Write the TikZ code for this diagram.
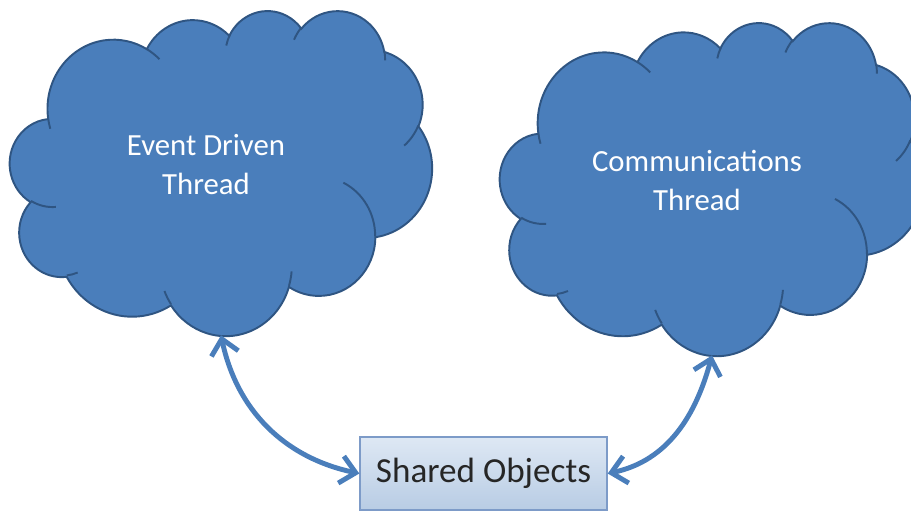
\documentclass[tikz,border=0pt]{standalone}
\usepackage{fontspec}
\setmainfont{Carlito}
\usepackage{tikz}
\usetikzlibrary{arrows.meta}

\definecolor{cloudblue}{RGB}{74,126,187}
\definecolor{cloudedge}{RGB}{47,85,130}
\definecolor{boxtop}{RGB}{222,232,244}
\definecolor{boxbot}{RGB}{184,204,228}
\definecolor{boxedge}{RGB}{125,155,200}

% angle on the ellipse (given as seen from the centre) -> parameter angle
\tikzset{declare function={
  parang(\p,\rx,\ry)=atan2(\rx*sin(\p),\ry*cos(\p));
  angfix(\p,\rx,\ry)=mod(parang(\p,\rx,\ry)-\p+900,360)-180;}}

% cloud outline, in a 432 x 432 box scaled to \cw x \ch
\newcommand{\ppat}[2]{({#1/432*\cw},{-#2/432*\ch})}
\newcommand{\pparc}[4]{arc[x radius={#1/432*\cw}, y radius={#2/432*\ch},
  start angle={-(#3+angfix(#3,#1,#2))},
  delta angle={-(#4+angfix(#3+#4,#1,#2)-angfix(#3,#1,#2))}]}
\newcommand{\offtext}[1]{\raisebox{0pt}[\height][\dimexpr\depth+0.2cm\relax]{%
  \begin{tabular}{@{}c@{}}#1\end{tabular}}\hspace*{0.6cm}}

\newcommand{\threadcloud}[5]{%
  \begin{scope}[shift={#2}]
  \def\cw{#3}\def\ch{#4}
  \filldraw[cloudline, fill=cloudblue] \ppat{39}{143.7}
    \pparc{67.53}{91.90}{-190.48748}{123.78053}
    \pparc{53.33}{72.67}{-144.10238}{89.94523}
    \pparc{43.65}{59.45}{-145.80792}{99.72302}
    \pparc{48.57}{65.95}{-130.98607}{117.24173}
    \pparc{53.33}{72.73}{-78.70888}{109.02692}
    \pparc{67.75}{92.20}{-46.26725}{130.269}
    \pparc{57.85}{78.67}{0.62502}{114.03333}
    \pparc{67.52}{92.15}{22.4516}{115.17255}
    \pparc{77.20}{105.43}{66.24263}{75.71102}
    \pparc{43.60}{59.18}{-274.94208}{146.73557}
    \pparc{43.45}{59.45}{-246.8285}{152.51885} -- cycle;
  \draw[cloudline]
    \ppat{46.93}{261.77} \pparc{43.45}{59.45}{86.742}{26.4295}
    \ppat{69.28}{348.99} \pparc{43.60}{59.18}{73.61047}{11.44747}
    \ppat{164.78}{390.90} \pparc{67.52}{92.15}{137.62415}{14.0811}
    \ppat{288.27}{347.51} \pparc{67.52}{92.15}{6.45327}{15.99835}
    \ppat{341.29}{229.54} \pparc{57.85}{78.67}{-70.29235}{70.91737}
    \ppat{417.98}{153.54} \pparc{53.33}{72.73}{30.31803}{27.7515}
    \ppat{383.24}{54.26} \pparc{48.57}{65.95}{-13.74433}{14.8589}
    \ppat{290.78}{39.52} \pparc{48.57}{65.95}{-149.18145}{18.19537}
    \ppat{221.41}{47.20} \pparc{43.65}{59.45}{-163.49427}{17.68635}
    \ppat{140.00}{51.92} \pparc{67.53}{91.90}{-66.70695}{12.31935}
    \ppat{41.27}{157.89} \pparc{67.53}{91.90}{157.65435}{11.85817};
  \node[thread, minimum width=#3cm, minimum height=#4cm] (#1) at ({#3/2},{-#4/2}) {\offtext{#5}};
  \end{scope}}

\begin{document}
\begin{tikzpicture}[
  cloudline/.style={draw=cloudedge, line width=1.1pt},
  thread/.style={rectangle, inner sep=0pt, text=white, font=\fontsize{17.5}{22}\selectfont},
  objbox/.style={rectangle, draw=boxedge, line width=0.8pt, top color=boxtop, bottom color=boxbot,
    minimum width=4.94cm, minimum height=1.46cm, font=\fontsize{20}{24}\selectfont, text=black!85},
  link/.style={draw=cloudblue, line width=2.8pt,
    {Straight Barb[length=3mm,width=5.5mm]}-{Straight Barb[length=3mm,width=5.5mm]}}
]
\useasboundingbox (0,0) rectangle (18.22,-10.24);
\threadcloud{evt}{(0.2,-0.2)}{8.44}{6.5}{Event Driven\\Thread}
\threadcloud{comm}{(10.0,-0.44)}{8.48}{6.66}{Communications\\Thread}
\node[objbox] (shared) at (9.67,-9.47) {Shared Objects};
\draw[link] (evt.south) to[out=-78, in=168] (shared.west);
\draw[link] (shared.east) to[out=12, in=-105] (comm.south);
\end{tikzpicture}
\end{document}
